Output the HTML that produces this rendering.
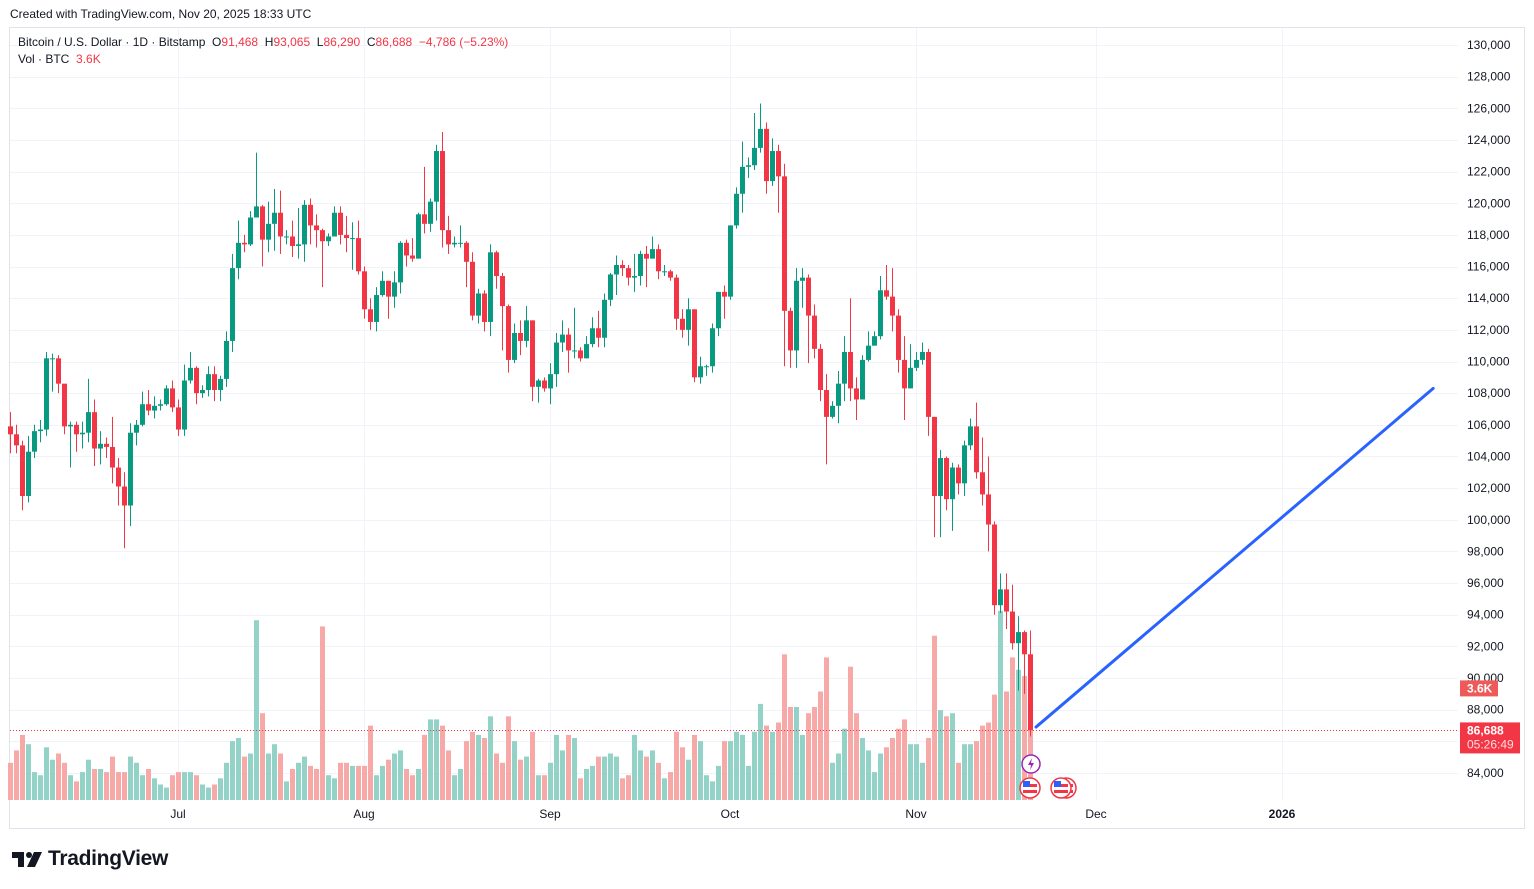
<!DOCTYPE html>
<html><head><meta charset="utf-8">
<style>
body{margin:0;background:#fff;font-family:"Liberation Sans",sans-serif;}
#wrap{position:relative;width:1534px;height:889px;overflow:hidden;background:#fff;}
.t{position:absolute;white-space:nowrap;}
</style></head>
<body>
<div id="wrap">
<div class="t" style="left:10px;top:7px;font-size:12px;color:#131722">Created with TradingView.com, Nov 20, 2025 18:33 UTC</div>
<svg id="chart" width="1534" height="889" style="position:absolute;left:0;top:0"></svg>
<div class="t" style="left:18px;top:35px;font-size:12px;color:#131722">Bitcoin / U.S. Dollar · 1D · Bitstamp&nbsp; O<span style="color:#f23645">91,468</span>&nbsp; H<span style="color:#f23645">93,065</span>&nbsp; L<span style="color:#f23645">86,290</span>&nbsp; C<span style="color:#f23645">86,688&nbsp; −4,786 (−5.23%)</span></div>
<div class="t" style="left:18px;top:52px;font-size:12px;color:#131722">Vol · BTC&nbsp; <span style="color:#f23645">3.6K</span></div>
<div class="t" style="left:12px;top:847px;">
<svg width="32" height="22" style="position:absolute;left:0;top:2px"><path d="M0 3h12v15H6V9H0z" fill="#131722"/><circle cx="17" cy="6" r="3" fill="#131722"/><path d="M22 3h8l-7 15h-8z" fill="#131722"/></svg>
<span style="position:absolute;left:36px;top:0;font-size:21px;font-weight:bold;color:#131722;letter-spacing:-0.3px">TradingView</span></div>
</div>
<script>
const openFirst = 105.9;
const closes = [
105.4,104.7,101.5,104.3,105.6,105.7,110.2,110.2,108.6,105.9,106.0,105.4,105.5,106.8,104.5,104.8,104.6,103.3,102.1,100.9,105.5,106.0,107.3,106.9,107.2,107.3,108.3,107.1,
105.7,108.8,109.6,108.0,108.2,109.2,108.2,108.9,111.3,115.9,117.5,117.4,119.1,119.8,117.7,118.7,119.4,117.9,117.9,117.3,117.4,119.9,118.6,118.3,117.6,117.9,119.4,118.0,117.8,117.8,115.7,
113.3,112.5,114.2,115.1,114.1,115.0,117.5,116.7,116.5,119.3,118.7,120.1,123.3,118.3,117.4,117.5,117.5,116.3,112.9,114.3,112.5,116.9,115.4,113.5,110.1,111.8,111.3,112.6,108.4,108.8,108.3,
109.2,111.2,111.7,110.7,110.7,110.2,111.1,112.1,111.5,113.9,115.5,116.1,115.9,115.3,115.4,116.8,116.5,117.1,115.7,115.7,115.3,112.7,112.0,113.3,109.0,109.7,109.7,112.1,114.4,114.1,
118.6,120.6,122.3,122.4,123.5,124.7,121.4,123.3,121.7,113.2,110.7,115.1,115.3,112.9,110.8,108.2,106.5,107.2,108.6,110.6,108.3,107.6,110.1,111.0,111.6,114.5,114.1,112.9,110.1,108.3,109.6,
110.1,110.6,106.5,101.5,103.9,101.3,103.3,102.3,104.7,105.9,103.0,101.6,99.7,94.6,95.6,94.2,92.2,92.9,91.5,86.7];
const highs = [
106.8,106.0,105.0,105.3,106.0,106.3,110.6,110.5,110.4,108.5,106.2,106.2,106.2,108.9,107.6,105.6,105.2,106.5,103.9,103.0,106.1,106.3,108.1,108.2,107.8,107.6,108.5,108.8,
107.6,109.8,110.6,109.7,108.5,109.7,109.7,109.1,111.9,116.8,118.9,118.0,119.5,123.2,119.9,120.1,120.9,120.8,118.3,118.9,119.7,120.2,120.3,119.3,118.4,118.1,119.8,119.8,119.2,118.8,118.9,
116.0,114.0,114.7,115.7,115.1,115.7,117.6,117.7,117.8,119.4,122.3,120.3,123.7,124.5,119.2,117.9,118.6,117.6,116.9,114.6,114.5,117.4,117.0,115.6,113.6,112.4,112.6,113.5,112.6,108.9,109.0,
109.9,111.8,112.6,112.1,113.4,110.9,111.6,112.8,113.2,114.3,115.6,116.7,116.4,116.1,116.8,117.0,117.3,117.9,117.4,116.1,115.8,115.5,113.3,114.0,113.3,110.3,109.8,112.4,114.4,114.8,
118.6,121.0,123.9,122.9,125.7,126.3,125.1,124.1,123.7,122.5,113.4,115.9,115.9,115.5,113.6,111.1,109.2,107.5,109.4,111.6,114.0,109.0,110.4,111.9,111.9,115.4,116.1,115.9,113.3,111.6,111.1,
110.6,111.2,110.8,106.5,104.4,104.0,103.6,103.5,105.0,106.4,107.4,105.2,104.0,99.9,96.6,96.6,95.9,93.9,93.0,93.0];
const lows = [
104.2,104.2,100.6,101.1,103.9,104.9,105.3,108.1,108.0,105.4,103.3,104.3,104.5,104.9,103.4,103.5,103.9,102.3,100.9,98.2,99.6,104.7,105.9,106.6,106.4,106.9,107.2,106.8,
105.3,105.3,108.6,107.3,107.7,107.8,107.5,107.5,108.4,110.6,115.2,116.9,117.3,119.1,116.0,116.9,117.0,116.8,117.4,116.6,116.5,116.3,117.4,117.2,114.7,117.3,117.9,117.4,116.9,115.8,115.5,
112.7,112.0,111.9,114.1,112.7,113.4,114.3,116.0,116.3,116.5,118.1,118.2,118.9,117.2,116.8,117.2,117.2,114.7,112.6,112.4,111.9,111.6,114.6,110.7,109.3,109.9,110.4,110.9,107.5,107.4,108.1,
107.3,108.4,110.6,109.3,110.2,110.0,110.2,110.9,110.9,110.9,113.5,114.2,115.4,114.8,114.4,114.8,114.7,116.8,115.2,115.4,115.1,112.0,111.5,111.0,108.7,108.6,109.1,109.3,111.6,112.7,
113.9,118.4,119.4,121.6,122.1,123.2,120.6,121.1,119.4,109.7,109.6,109.6,113.4,109.9,110.2,107.5,103.5,106.4,106.1,107.5,107.5,106.3,107.6,110.0,111.1,111.4,113.9,111.9,109.3,106.3,108.3,
109.4,109.8,105.3,98.9,98.9,100.6,99.3,101.6,101.5,104.4,102.6,100.9,98.0,94.0,94.1,93.1,91.8,89.2,89.0,86.3];
const volumesK = [
1.2,1.6,2.1,1.8,0.9,0.8,1.7,1.3,1.5,1.2,0.8,0.6,0.9,1.3,1.0,1.0,0.9,1.4,0.9,0.9,1.4,1.2,0.8,1.0,0.7,0.5,0.4,0.8,
0.9,0.9,0.9,0.8,0.5,0.4,0.5,0.7,1.2,1.9,2.0,1.4,1.5,5.8,2.8,1.5,1.8,1.5,0.6,1.0,1.2,1.4,1.1,1.0,5.6,0.8,0.7,1.2,1.2,1.1,1.1,
1.1,2.4,0.8,1.1,1.3,1.5,1.6,1.0,0.8,1.0,2.1,2.6,2.6,2.4,1.6,0.8,1.0,1.9,2.2,2.1,2.0,2.7,1.5,1.2,2.7,1.9,1.3,1.4,2.2,0.8,0.8,
1.2,2.1,1.6,2.1,2.0,0.7,1.0,1.1,1.4,1.4,1.5,1.4,0.7,0.8,2.1,1.6,1.4,1.6,1.2,0.7,0.9,2.2,1.7,1.3,2.1,1.9,0.8,0.6,1.1,1.9,
1.9,2.2,2.1,1.1,2.2,3.1,2.4,2.2,2.5,4.7,3.0,3.0,2.1,2.8,3.0,3.5,4.6,1.2,1.5,2.3,4.3,2.8,2.0,1.6,0.9,1.5,1.7,2.0,2.3,2.6,1.8,
1.8,1.2,2.0,5.3,2.9,2.7,2.8,1.2,1.8,1.8,1.9,2.4,2.5,3.4,6.1,3.5,4.6,4.2,4.0,3.6];
const monthLabels = ["Jul","Aug","Sep","Oct","Nov","Dec","2026"];
const monthDayIndex = [28,59,90,120,151,181,212];
const priceTicks = [84,86,88,90,92,94,96,98,100,102,104,106,108,110,112,114,116,118,120,122,124,126,128,130];
const lastPrice = 86.688;
const lastVolume = 3.6;
const trendStart = [171, 86.9];
const trendEnd = [237.2, 108.3];

const NS="http://www.w3.org/2000/svg";
const svg=document.getElementById('chart');
function xOf(i){return 10+6*i;}
function yOf(p){return 45+(130-p)/2*31.65;}
function vH(v){return v*31;}
function mk(tag,attrs,parent){const e=document.createElementNS(NS,tag);for(const k in attrs)e.setAttribute(k,attrs[k]);(parent||svg).appendChild(e);return e;}

const frame=mk('rect',{x:9.5,y:27.5,width:1515,height:801,fill:'none',stroke:'#e0e3eb'});


const grid=mk('g',{});


priceTicks.forEach(p=>{const y=Math.round(yOf(p))+0.5;mk('line',{x1:10,x2:1458,y1:y,y2:y,stroke:'#f0f3fa'},grid);});
monthDayIndex.forEach(i=>{const x=xOf(i)+0.5;mk('line',{x1:x,x2:x,y1:28,y2:800,stroke:'#f0f3fa'},grid);});
const vg=mk('g',{});


for(let i=0;i<closes.length;i++){
  const o=i?closes[i-1]:openFirst;const up=closes[i]>=o;
  const h=vH(volumesK[i]);
  const r=mk('rect',{x:xOf(i)-2,y:800-h,width:5,height:h,fill:up?'#92d2c7':'#f7a9a7'},vg);
  
  
}
const cg=mk('g',{});


for(let i=0;i<closes.length;i++){
  const o=i?closes[i-1]:openFirst;const c=closes[i];const up=c>=o;
  const col=up?'#089981':'#f23645';const x=xOf(i);
  const g=mk('g',{},cg);
  
  
  mk('line',{x1:x+0.5,x2:x+0.5,y1:yOf(highs[i]),y2:yOf(lows[i]),stroke:col,'stroke-width':1},g);
  const top=yOf(Math.max(o,c)),bot=yOf(Math.min(o,c));
  mk('rect',{x:x-2,y:top,width:5,height:Math.max(1,bot-top),fill:col},g);
}
const lp=mk('line',{x1:10,x2:1458,y1:Math.round(yOf(lastPrice))+0.5,y2:Math.round(yOf(lastPrice))+0.5,stroke:'#f23645','stroke-dasharray':'1,2'});


const tl=mk('line',{x1:xOf(trendStart[0]),y1:yOf(trendStart[1]),x2:xOf(trendEnd[0]),y2:yOf(trendEnd[1]),stroke:'#2962ff','stroke-width':3,'stroke-linecap':'round'});


const ag=mk('g',{});


priceTicks.forEach(p=>{const t=mk('text',{x:1467,y:yOf(p)+4,'font-size':'12','fill':'#131722','font-family':'Liberation Sans, sans-serif'},ag);t.textContent=(p*1000).toLocaleString('en-US');});
const tg=mk('g',{});


monthLabels.forEach((m,k)=>{const t=mk('text',{x:xOf(monthDayIndex[k]),y:818,'font-size':'12','text-anchor':'middle','fill':'#131722','font-weight':m==='2026'?'bold':'normal','font-family':'Liberation Sans, sans-serif'},tg);t.textContent=m;});
const vb=mk('g',{});


const vy=800-vH(lastVolume);
mk('rect',{x:1460,y:vy-8,width:38,height:16,fill:'#ee5a5a'},vb);
const vt=mk('text',{x:1467,y:vy+4,'font-size':'12','font-weight':'bold',fill:'#fff','font-family':'Liberation Sans, sans-serif'},vb);vt.textContent=lastVolume+'K';
const pb=mk('g',{});


const py=yOf(lastPrice);
mk('rect',{x:1460,y:py-8,width:60,height:31,fill:'#f23645'},pb);
const pt=mk('text',{x:1467,y:py+4,'font-size':'12','font-weight':'bold',fill:'#fff','font-family':'Liberation Sans, sans-serif'},pb);pt.textContent=Math.round(lastPrice*1000).toLocaleString('en-US');
const ct=mk('text',{x:1467,y:py+18,'font-size':'12',fill:'#fdd','font-family':'Liberation Sans, sans-serif'},pb);ct.textContent='05:26:49';
const eg=mk('g',{});


mk('circle',{cx:1031,cy:764,r:9,fill:'#fff',stroke:'#9c27b0','stroke-width':1.5},eg);
mk('path',{d:'M1032 758l-4 7h3l-1 5 4-7h-3z',fill:'#9c27b0'},eg);
[[1030,788],[1066,788],[1061,788]].forEach(([x,y])=>{
  mk('circle',{cx:x,cy:y,r:10,fill:'#fff',stroke:'#f23645','stroke-width':1.5},eg);
  mk('rect',{x:x-7,y:y-4,width:14,height:3,fill:'#f23645'},eg);
  mk('rect',{x:x-7,y:y+2,width:14,height:3,fill:'#f23645'},eg);
  mk('rect',{x:x-7,y:y-7,width:7,height:6,fill:'#2962ff'},eg);
});
</script>
</body></html>
